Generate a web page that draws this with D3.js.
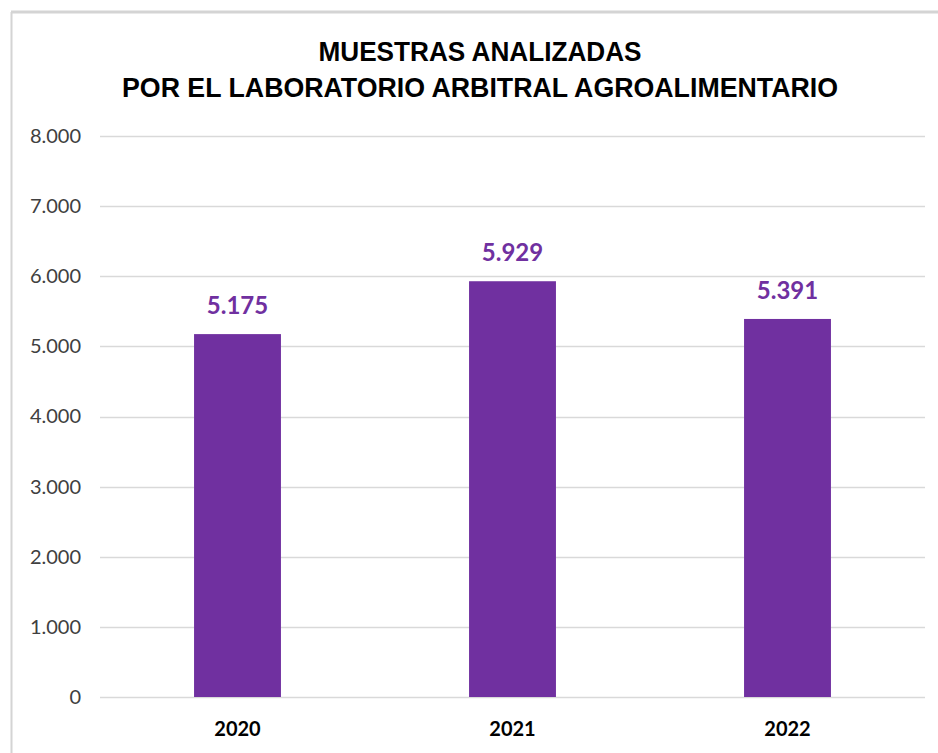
<!DOCTYPE html>
<html><head><meta charset="utf-8">
<script src="https://cdn.jsdelivr.net/npm/d3@7"></script>
<style>body{margin:0;background:#fff}svg{display:block}</style>
</head><body>
<svg id="c" width="938" height="753"></svg>
<script>
const categories = ["2020", "2021", "2022"];
const values = [5175, 5929, 5391];
const valueLabels = ["5.175", "5.929", "5.391"];
const yTicks = [0, 1000, 2000, 3000, 4000, 5000, 6000, 7000, 8000];
const yTickLabels = ["0", "1.000", "2.000", "3.000", "4.000", "5.000", "6.000", "7.000", "8.000"];
const titleLines = ["MUESTRAS ANALIZADAS", "POR EL LABORATORIO ARBITRAL AGROALIMENTARIO"];

const svg = d3.select("#c");
// frame
svg.append("rect").attr("x", 0).attr("y", 0).attr("width", 938).attr("height", 753).attr("fill", "#fff");
svg.append("line").attr("x1", 11).attr("x2", 938).attr("y1", 12).attr("y2", 12).attr("stroke", "#d4d4d4").attr("stroke-width", 3);
svg.append("line").attr("x1", 11.5).attr("x2", 11.5).attr("y1", 12).attr("y2", 753).attr("stroke", "#d4d4d4").attr("stroke-width", 2);

const m = {left: 100, right: 925, top: 136, bottom: 697};
const x = d3.scaleBand().domain(categories).range([m.left, m.right]).paddingInner(0.684).paddingOuter(0.342);
const y = d3.scaleLinear().domain([0, 8000]).range([m.bottom, m.top]);

// gridlines
svg.append("g").selectAll("line").data(yTicks).join("line")
  .attr("x1", m.left).attr("x2", m.right)
  .attr("y1", d => Math.round(y(d)) + 0.5).attr("y2", d => Math.round(y(d)) + 0.5)
  .attr("stroke", "#d9d9d9").attr("stroke-width", 1.3);

// y axis labels
const yAxis = d3.axisLeft(y).tickValues(yTicks).tickFormat((d, i) => yTickLabels[i]).tickSize(0).tickPadding(0);
const gy = svg.append("g").attr("transform", `translate(81,0)`).call(yAxis);
gy.select(".domain").remove();
gy.selectAll("text").attr("font-family", "Lato, 'Open Sans', sans-serif").attr("font-size", 20).attr("fill", "#404040");

// bars
svg.append("g").selectAll("rect").data(values).join("rect")
  .attr("x", (d, i) => x(categories[i])).attr("width", x.bandwidth())
  .attr("y", d => y(d)).attr("height", d => y(0) - y(d))
  .attr("fill", "#7030A0");

// value labels
svg.append("g").selectAll("text").data(values).join("text")
  .attr("x", (d, i) => x(categories[i]) + x.bandwidth() / 2)
  .attr("y", d => y(d) - 20)
  .attr("text-anchor", "middle")
  .attr("font-family", "Lato, 'Open Sans', sans-serif").attr("font-weight", "bold")
  .attr("font-size", 24).attr("fill", "#7030A0")
  .text((d, i) => valueLabels[i]);

// x axis labels
const xAxis = d3.axisBottom(x).tickSize(0).tickPadding(0);
const gx = svg.append("g").attr("transform", `translate(0,${m.bottom + 25})`).call(xAxis);
gx.select(".domain").remove();
gx.selectAll("text").attr("font-family", "Lato, 'Open Sans', sans-serif").attr("font-weight", "bold").attr("font-size", 20).attr("fill", "#000");

// title
const tw = [323, 716];
svg.append("g").selectAll("text").data(titleLines).join("text")
  .attr("x", 480).attr("y", (d, i) => 61 + i * 36)
  .attr("text-anchor", "middle")
  .attr("font-family", "'Liberation Sans Narrow', 'Liberation Sans', Arial, sans-serif")
  .attr("font-weight", "bold").attr("font-size", 27).attr("fill", "#000")
  .attr("textLength", (d, i) => tw[i]).attr("lengthAdjust", "spacingAndGlyphs")
  .text(d => d);
</script>
</body></html>
